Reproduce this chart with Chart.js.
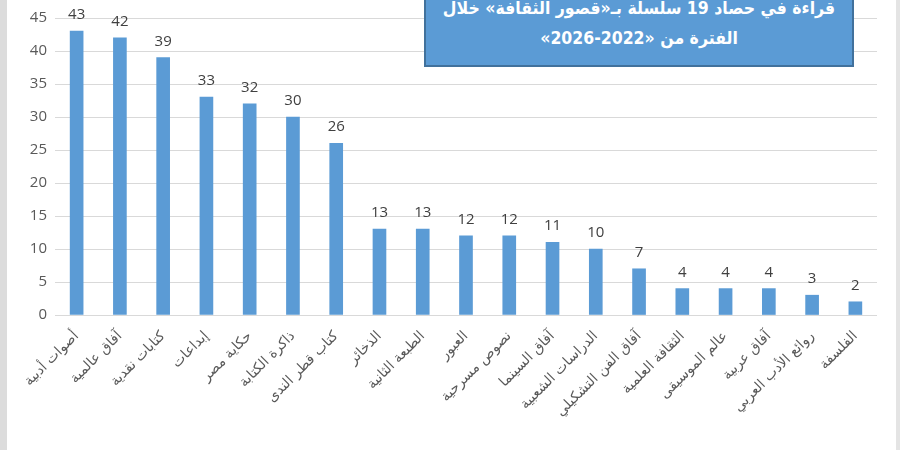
<!DOCTYPE html>
<html>
<head>
<meta charset="utf-8">
<script src="https://cdn.jsdelivr.net/npm/chart.js@4"></script>
<style>
  html, body { margin: 0; padding: 0; background: #fff; }
  #wrap { position: relative; width: 900px; height: 450px; overflow: hidden; }
  #side-l { position: absolute; left: 0; top: 0; width: 7px; height: 450px; background: #dcdcdc; }
  #side-r { position: absolute; right: 0; top: 0; width: 4px; height: 450px; background: #e4e4e4; }
  #title-box {
    position: absolute; left: 424px; top: -30px; width: 426px; height: 93px;
    background: #5b9bd5; border: 2px solid #41719c;
    color: #fff; font: bold 17.5px "DejaVu Sans Condensed", "DejaVu Sans", sans-serif;
    text-align: center; line-height: 30px; box-sizing: content-box;
    white-space: nowrap;
  }
  #title-box div { position: absolute; left: 0; right: 0; }
</style>
</head>
<body>
<div id="wrap">
  <canvas id="chart" width="900" height="450"></canvas>
  <div id="side-l"></div>
  <div id="side-r"></div>
  <div id="title-box" dir="rtl">
    <div style="top: 21px;">قراءة في حصاد 19 سلسلة بـ«قصور الثقافة» خلال</div>
    <div style="top: 51px;">الفترة من «2022-2026»</div>
  </div>
</div>
<script>
const series = [
  'أصوات أدبية', 'آفاق عالمية', 'كتابات نقدية', 'إبداعات', 'حكاية مصر',
  'ذاكرة الكتابة', 'كتاب قطر الندى', 'الذخائر', 'الطبعة الثانية', 'العبور',
  'نصوص مسرحية', 'آفاق السينما', 'الدراسات الشعبية', 'آفاق الفن التشكيلي',
  'الثقافة العلمية', 'عالم الموسيقى', 'آفاق عربية', 'روائع الأدب العربي', 'الفلسفة'
];
const counts = [43, 42, 39, 33, 32, 30, 26, 13, 13, 12, 12, 11, 10, 7, 4, 4, 4, 3, 2];
const yTicks = [0, 5, 10, 15, 20, 25, 30, 35, 40, 45];

// value labels above each bar
const valueLabels = {
  id: 'valueLabels',
  afterDatasetsDraw(chart) {
    const ctx = chart.ctx;
    const meta = chart.getDatasetMeta(0);
    ctx.save();
    ctx.fillStyle = '#404040';
    ctx.font = '15px "Open Sans", "Liberation Sans", sans-serif';
    ctx.textAlign = 'center';
    ctx.textBaseline = 'alphabetic';
    meta.data.forEach((bar, i) => {
      ctx.fillText(String(counts[i]), bar.x, bar.y - 12);
    });
    ctx.restore();
  }
};

new Chart(document.getElementById('chart').getContext('2d'), {
  type: 'bar',
  data: {
    labels: series,
    datasets: [{
      data: counts,
      backgroundColor: '#5b9bd5',
      borderWidth: 0,
      barThickness: 13
    }]
  },
  options: {
    responsive: false,
    animation: false,
    layout: { padding: { top: 18, right: 23, left: 0, bottom: 0 } },
    scales: {
      x: {
        grid: { display: false },
        border: { display: false },
        ticks: {
          autoSkip: false,
          minRotation: 45,
          maxRotation: 45,
          padding: 5,
          color: '#595959',
          font: { size: 14, family: '"DejaVu Sans", sans-serif' }
        },
        afterFit(scale) { scale.height = 135; }
      },
      y: {
        min: 0,
        max: 45,
        afterBuildTicks(scale) { scale.ticks = yTicks.map(v => ({ value: v })); },
        grid: { color: '#d9d9d9', drawTicks: false },
        border: { display: false },
        ticks: {
          padding: 8,
          color: '#595959',
          font: { size: 15, family: '"Open Sans", "Liberation Sans", sans-serif' }
        },
        afterFit(scale) { scale.width = 55; }
      }
    },
    plugins: {
      legend: { display: false },
      tooltip: { enabled: false }
    }
  },
  plugins: [valueLabels]
});
</script>
</body>
</html>
